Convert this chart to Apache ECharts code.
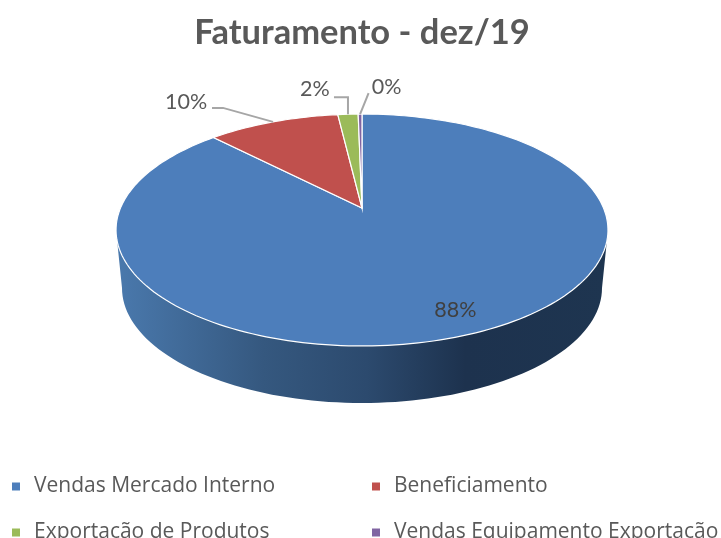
<!DOCTYPE html>
<html>
<head>
<meta charset="utf-8">
<style>html,body{margin:0;padding:0;background:#fff}#c{width:721px;height:538px}</style>
<script src="https://cdn.jsdelivr.net/npm/echarts@6/dist/echarts.min.js"></script>
</head>
<body>
<div id="c"></div>
<script>
const categories = ['Vendas Mercado Interno', 'Beneficiamento', 'Exportação de Produtos', 'Vendas Equipamento Exportação'];
const shares = [87.7, 10.4, 1.6, 0.3];
const percentLabels = ['88%', '10%', '2%', '0%'];
const colors = ['#4d7ebb', '#c0504d', '#9bbb59', '#8064a2'];

const total = shares.reduce((a, b) => a + b, 0);
const starts = [];
shares.reduce((acc, v, i) => { starts[i] = acc; return acc + v; }, 0);

// perspective of the tilted disc: apex, half-axes, foreshortening
const disc = { cx: 362, cy: 208, a: 241.5, b: 111.8, p: 0.1897 };
const base = { cx: 362, cy: 288, rx: 240, ry: 115 };
const rim = { cy: 230, rx: 246 };
// slices start at the 12 o'clock position, running clockwise
function pt(frac) {
  const t = frac * 2 * Math.PI;
  const w = 1 + disc.p * Math.cos(t);
  return [disc.cx + disc.a * Math.sin(t) / w, disc.cy - disc.b * Math.cos(t) / w];
}
// label layout relative to the slice's outer midpoint
const labelLayout = [
  { text: [-17, -24], line: null },
  { text: [-87, -20], line: [[-61, -14], [-50, -14], [0, 0]] },
  { text: [-33, -25], line: [[-14, -17], [0, -17], [0, 0]] },
  { text: [26.5, -27], line: [[8.5, -21], [0, 0]] }
];
const legendCells = [[12, 476], [372, 476], [12, 522], [372, 522]];
const wallGradient = {
  type: 'linear', x: 0, y: 0, x2: 1, y2: 0,
  colorStops: [
    { offset: 0, color: '#4a79ad' }, { offset: 0.3, color: '#35587f' },
    { offset: 0.51, color: '#2c4a6e' }, { offset: 0.71, color: '#1d324e' },
    { offset: 1, color: '#1e3550' }
  ]
};
function wallPoints() {
  const out = [[disc.cx - rim.rx, rim.cy]];
  for (let i = 0; i <= 90; i++) {
    const t = Math.PI * i / 90;
    out.push([base.cx - base.rx * Math.cos(t), base.cy + base.ry * Math.sin(t)]);
  }
  out.push([disc.cx + rim.rx, rim.cy]);
  return out;
}
function renderSlice(idx) {
  return function (params, api) {
    const value = api.value(0);
    const f0 = starts[idx] / total, f1 = (starts[idx] + value) / total;
    const n = Math.max(4, Math.ceil((f1 - f0) * 240));
    const pts = [[disc.cx, disc.cy]];
    for (let i = 0; i <= n; i++) pts.push(pt(f0 + (f1 - f0) * i / n));
    const children = [];
    if (idx === 0) {
      children.push({ type: 'polygon', shape: { points: wallPoints() }, style: { fill: wallGradient }, silent: true });
    }
    children.push({ type: 'polygon', shape: { points: pts }, style: { fill: colors[idx], stroke: '#ffffff', lineWidth: 1.2 } });
    const anchor = pt((f0 + f1) / 2);
    const lay = labelLayout[idx];
    if (lay.line) {
      children.push({
        type: 'polyline',
        shape: { points: lay.line.map(o => [anchor[0] + o[0], anchor[1] + o[1]]) },
        style: { fill: null, stroke: '#a6a6a6', lineWidth: 2 }
      });
    }
    children.push({
      type: 'text',
      style: {
        text: percentLabels[idx], x: anchor[0] + lay.text[0], y: anchor[1] + lay.text[1],
        align: 'center', verticalAlign: 'middle',
        font: '21.5px Lato', fill: idx === 0 ? '#404040' : '#595959'
      }
    });
    return { type: 'group', children };
  };
}
const legendText = { color: '#595959', fontFamily: 'Open Sans', fontSize: 21, lineHeight: 14, padding: [0, 0, 0, 9] };
const chart = echarts.init(document.getElementById('c'), null, { renderer: 'canvas' });
chart.setOption({
  animation: false,
  backgroundColor: '#ffffff',
  title: {
    text: 'Faturamento - dez/19', left: 362, top: 15, padding: 0, textAlign: 'center',
    textStyle: { fontFamily: 'Lato', fontWeight: 'bold', fontSize: 34.5, color: '#595959' }
  },
  legend: categories.map((name, i) => ({
    data: [name], left: legendCells[i][0], top: legendCells[i][1],
    padding: 0, itemWidth: 8, itemHeight: 8, icon: 'rect', textStyle: legendText, selectedMode: false
  })),
  series: categories.map((name, i) => ({
    type: 'custom', name, coordinateSystem: 'none',
    itemStyle: { color: colors[i] },
    data: [[shares[i]]],
    renderItem: renderSlice(i)
  }))
});
</script>
</body>
</html>
